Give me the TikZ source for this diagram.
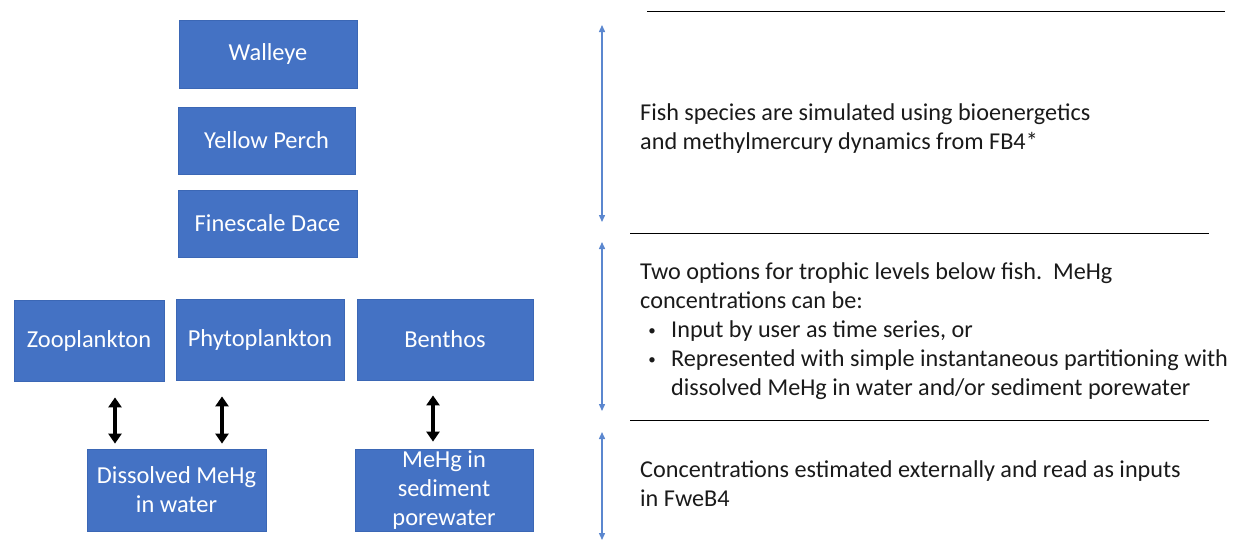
\documentclass[tikz,border=0pt]{standalone}
\usepackage{fontspec}
\setmainfont{Carlito}
\usetikzlibrary{arrows.meta}
\definecolor{boxfill}{HTML}{4472C4}
\definecolor{boxedge}{HTML}{3B67B5}
\definecolor{bluearrow}{HTML}{5B87CF}
\definecolor{txt}{HTML}{1A1A1A}
\tikzset{
  sbox/.style={rectangle, fill=boxfill, draw=boxedge, line width=0.8pt, text=white,
    font=\fontsize{24.4}{29}\selectfont, align=center, inner sep=0pt},
  biarrow/.style={line width=3.6pt, {Triangle[length=10pt,width=13pt]}-{Triangle[length=10pt,width=13pt]}},
  bluearr/.style={bluearrow, line width=1.4pt, {Triangle[length=7pt,width=6pt]}-{Triangle[length=7pt,width=6pt]}},
  rule/.style={black, line width=1pt},
  rtext/.style={anchor=base west, inner sep=0pt, text=txt, font=\fontsize{24.2}{29}\selectfont},
  bullet/.style={anchor=base, inner sep=0pt, text=txt, font=\fontsize{15}{29}\selectfont},
}
\begin{document}
\begin{tikzpicture}[x=1pt,y=-1pt]
\useasboundingbox (0,0) rectangle (1234,544);
% fish boxes
\node[sbox, minimum width=178pt, minimum height=68pt] (wal) at (268,54) {Walleye};
\node[sbox, minimum width=177pt, minimum height=67pt] (yp) at (266.5,140.5) {Yellow Perch};
\node[sbox, minimum width=179pt, minimum height=67pt] (fd) at (267.5,223.5) {Finescale Dace};
% lower trophic
\node[sbox, minimum width=150pt, minimum height=81pt] (zoo) at (89,340.5) {Zooplankton};
\node[sbox, minimum width=168pt, minimum height=81pt] (phy) at (260,339.5) {Phytoplankton};
\node[sbox, minimum width=176pt, minimum height=81pt] (ben) at (445,339.5) {Benthos};
% dissolved
\node[sbox, minimum width=179pt, minimum height=82pt] (dis) at (176.5,490) {Dissolved MeHg\\in water};
\node[sbox, minimum width=178pt, minimum height=82pt] (sed) at (444,490) {MeHg in\\sediment\\porewater};
% black arrows
\draw[biarrow, shorten <=16pt, shorten >=5pt] ([xshift=26pt]zoo.south) -- ([xshift=-61.5pt]dis.north);
\draw[biarrow, shorten <=16pt, shorten >=5pt] ([xshift=-38pt]phy.south) -- ([xshift=45.5pt]dis.north);
\draw[biarrow, shorten <=15pt, shorten >=7pt] ([xshift=-12pt]ben.south) -- ([xshift=-11pt]sed.north);
% blue range arrows
\coordinate (a1) at (602,25); \coordinate (b1) at (602,222);
\coordinate (a2) at (602,242); \coordinate (b2) at (602,411);
\coordinate (a3) at (602,432); \coordinate (b3) at (602,540);
\draw[bluearr] (a1) -- (b1);
\draw[bluearr] (a2) -- (b2);
\draw[bluearr] (a3) -- (b3);
% horizontal rules
\coordinate (r1a) at (647,11); \coordinate (r1b) at (1225,11);
\coordinate (r2a) at (630,233); \coordinate (r2b) at (1209,233);
\coordinate (r3a) at (630,420); \coordinate (r3b) at (1209,420);
\draw[rule] (r1a) -- (r1b);
\draw[rule] (r2a) -- (r2b);
\draw[rule] (r3a) -- (r3b);
% text
\node[rtext] (t1) at (640,120) {Fish species are simulated using bioenergetics};
\node[rtext] (t2) at (640,149) {and methylmercury dynamics from FB4*};
\node[rtext] (t3) at (640,279) {Two options for trophic levels below fish.\ \ MeHg};
\node[rtext] (t4) at (640,308) {concentrations can be:};
\node[bullet] (b1t) at (652,335) {•};
\node[rtext] (t5) at (671,337) {Input by user as time series, or};
\node[bullet] (b2t) at (652,364) {•};
\node[rtext] (t6) at (671,366) {Represented with simple instantaneous partitioning with};
\node[rtext] (t7) at (671,395) {dissolved MeHg in water and/or sediment porewater};
\node[rtext] (t8) at (640,477) {Concentrations estimated externally and read as inputs};
\node[rtext] (t9) at (640,506) {in FweB4};
\end{tikzpicture}
\end{document}
